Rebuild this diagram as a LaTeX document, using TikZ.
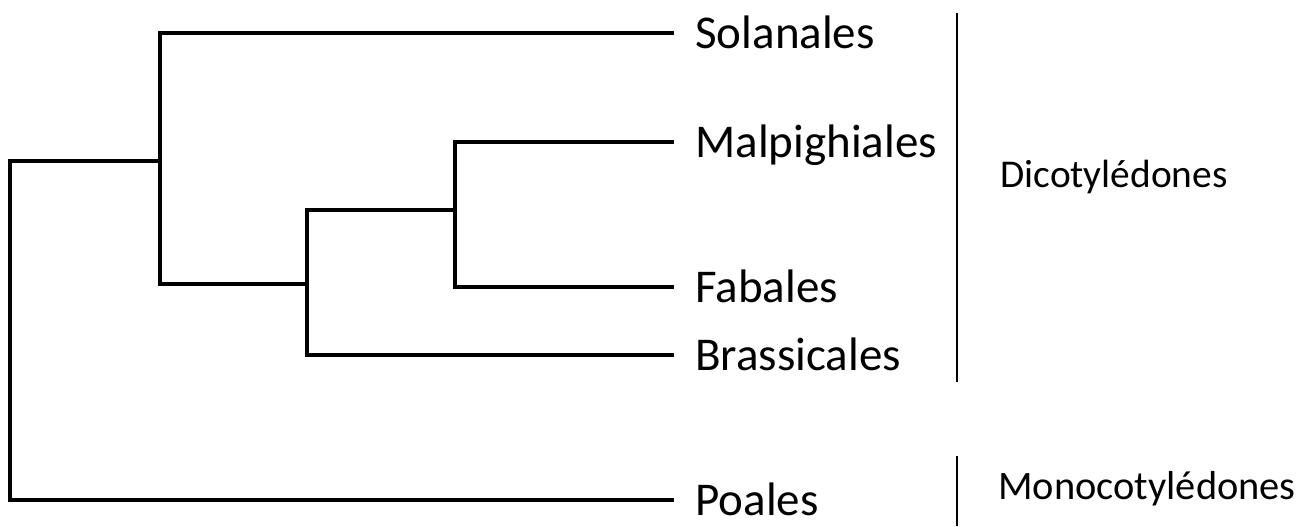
\documentclass[tikz,border=0pt]{standalone}
\usepackage{fontspec}
\setmainfont{Carlito}
\usetikzlibrary{positioning}

\begin{document}
\begin{tikzpicture}[x=0.5pt, y=-0.5pt,
      taxon/.style={anchor=west, inner xsep=10.5pt, inner ysep=0pt,
                    text height=15pt, text depth=0pt,
                    font=\fontsize{23.5}{28}\selectfont},
      clade/.style={anchor=base west, inner sep=0pt,
                    font=\fontsize{19.7}{23}\selectfont},
      branch/.style={line width=1.7pt, line join=miter},
      brace/.style={line width=1.2pt}
  ]
    \useasboundingbox (0,0) rectangle (1312,526);
    % leaves
    \node[taxon] (sol)   at (674,33)  {Solanales};
    \node[taxon] (malp)  at (674,142) {Malpighiales};
    \node[taxon] (fab)   at (674,287) {Fabales};
    \node[taxon] (brass) at (674,355) {Brassicales};
    \node[taxon] (poa)   at (674,500) {Poales};
    % inner nodes
    \coordinate (n3)   at (455,210);
    \coordinate (n2)   at (307,284);
    \coordinate (n1)   at (160,161);
    \coordinate (root) at (10,161);
    \draw[branch] (malp) -| (n3) |- (fab);
    \draw[branch] (n3) -| (n2) |- (brass);
    \draw[branch] (sol) -| (n1) |- (n2);
    \draw[branch] (n1) -- (root) |- (poa);
    % groups
    \coordinate (dtop) at (957,13);
    \coordinate (dbot) at (957,382);
    \coordinate (mtop) at (957,456);
    \coordinate (mbot) at (957,526);
    \draw[brace] (dtop) -- (dbot);
    \draw[brace] (mtop) -- (mbot);
    \node[clade] (dico) at (1000,187) {Dicotylédones};
    \node[clade, font=\fontsize{20.2}{24}\selectfont] (mono) at (998,499) {Monocotylédones};
  \end{tikzpicture}
\end{document}
